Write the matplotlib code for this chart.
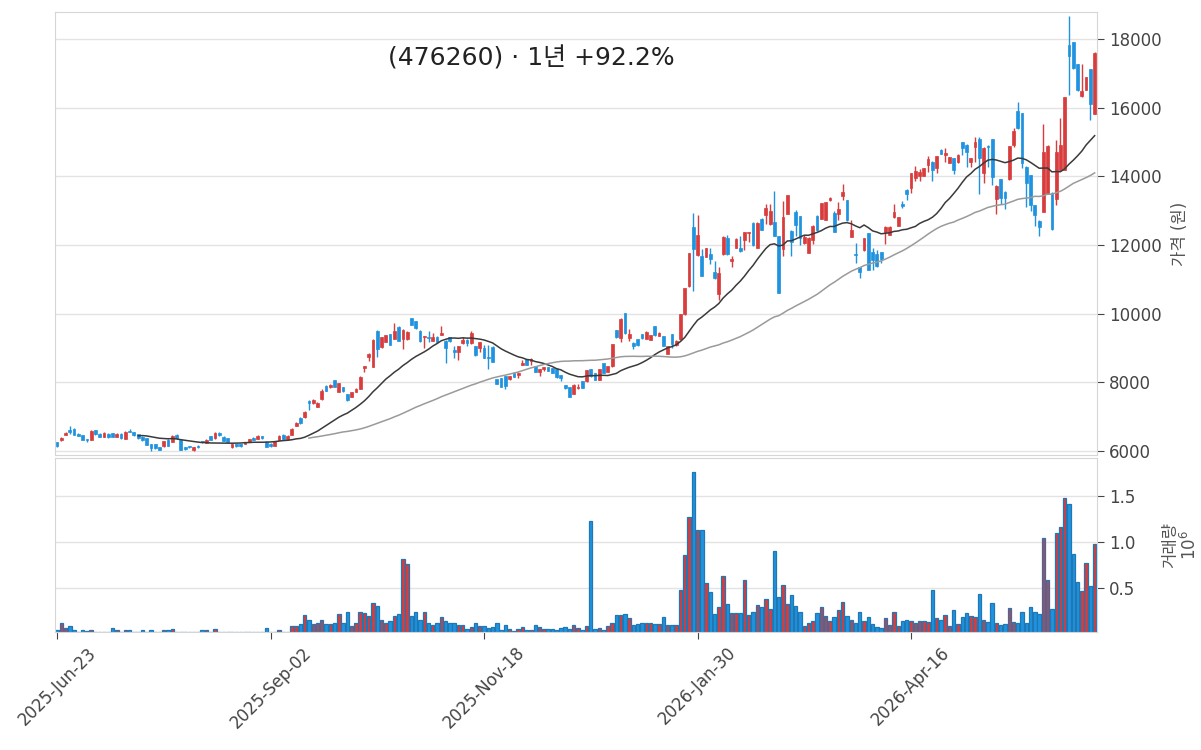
import numpy as np
import pandas as pd
import matplotlib
matplotlib.use("Agg")
import matplotlib.pyplot as plt
from matplotlib.patches import Rectangle

plt.rcParams["font.family"] = ["DejaVu Sans", "Noto Sans CJK KR"]

# =========================
# Data
# =========================
start_date = "2025-06-23"
end_date = "2026-06-22"
holidays = ["2025-08-15", "2025-10-03", "2025-10-06", "2025-10-07", "2025-10-08",
            "2025-10-09", "2025-12-25", "2025-12-31", "2026-01-01", "2026-02-16",
            "2026-02-17", "2026-02-18", "2026-03-02", "2026-05-01", "2026-05-05",
            "2026-05-25", "2026-06-03"]

opens = [
    6250, 6310, 6470, 6620, 6640, 6500, 6460, 6340, 6330, 6600,
    6500, 6410, 6500, 6520, 6410, 6500, 6350, 6580, 6545, 6485,
    6410, 6370, 6195, 6195, 6100, 6135, 6330, 6270, 6465, 6330,
    6100, 6135, 6040, 6155, 6290, 6235, 6430, 6370, 6525, 6410,
    6370, 6100, 6195, 6195, 6195, 6270, 6390, 6350, 6430, 6270,
    6215, 6155, 6320, 6466, 6340, 6466, 6730, 6960, 6980, 7460,
    7390, 7290, 7505, 7890, 7855, 8070, 7720, 7855, 7660, 7580,
    7720, 7815, 8420, 8730, 8455, 9505, 9020, 9175, 9410, 9270,
    9620, 9250, 9250, 9865, 9790, 9505, 9310, 9330, 9215, 9330,
    9390, 9215, 9320, 8950, 8885, 9135, 9235, 9135, 9060, 9000,
    9010, 8730, 9040, 8090, 8110, 8170, 8090, 8280, 8200, 8500,
    8670, 8630, 8475, 8300, 8380, 8440, 8420, 8400, 8200, 7910,
    7860, 7660, 7820, 8030, 8030, 8380, 8260, 8070, 8550, 8300,
    8460, 9510, 9280, 10010, 9300, 9150, 9250, 9400, 9270, 9235,
    9640, 9350, 9350, 8815, 9400, 9080, 9250, 9980, 10800, 12525,
    11700, 11680, 11660, 11730, 11200, 10560, 11730, 12195, 11535, 11920,
    11915, 12135, 12360, 12650, 11920, 12770, 12865, 12600, 12670, 12260,
    11870, 12900, 12420, 12970, 12840, 12060, 11770, 12140, 12855, 12760,
    12740, 13320, 12930, 12910, 13440, 13300, 12230, 11750, 11360, 11845,
    12350, 11790, 11730, 11790, 12370, 12300, 12815, 12545, 13205, 13610,
    13660, 13950, 14020, 14020, 14340, 14430, 14240, 14780, 14620, 14390,
    14535, 14410, 14990, 14915, 14430, 14845, 15080, 14110, 14880, 15090,
    13350, 13910, 13545, 13910, 14910, 15910, 15840, 14280, 14040, 13170,
    12710, 12970, 13500, 13530, 13330, 14190, 14190, 17830, 17920, 17270,
    16340, 16520, 17120, 15820]

highs = [
    6270, 6400, 6540, 6720, 6660, 6510, 6470, 6350, 6600, 6610,
    6520, 6540, 6520, 6530, 6510, 6510, 6580, 6640, 6560, 6490,
    6420, 6380, 6200, 6210, 6110, 6300, 6340, 6460, 6480, 6340,
    6110, 6150, 6110, 6170, 6300, 6340, 6440, 6540, 6540, 6420,
    6380, 6210, 6200, 6210, 6260, 6360, 6400, 6460, 6440, 6280,
    6220, 6300, 6460, 6480, 6450, 6670, 6840, 6980, 7160, 7490,
    7500, 7420, 7790, 7910, 7940, 8080, 7980, 7870, 7670, 7730,
    7830, 8180, 8480, 8840, 9250, 9520, 9320, 9390, 9420, 9720,
    9630, 9540, 9490, 9870, 9800, 9530, 9360, 9480, 9430, 9340,
    9640, 9230, 9330, 9050, 9070, 9330, 9250, 9500, 9070, 9180,
    9100, 9100, 9050, 8100, 8120, 8180, 8190, 8290, 8290, 8650,
    8680, 8700, 8480, 8390, 8450, 8450, 8430, 8410, 8210, 7920,
    7870, 7940, 7940, 8040, 8370, 8390, 8270, 8390, 8560, 8470,
    9120, 9520, 9870, 10020, 9550, 9180, 9260, 9420, 9480, 9380,
    9650, 9460, 9360, 9070, 9410, 9230, 9990, 10760, 11770, 12940,
    12860, 11870, 11910, 11920, 11530, 11350, 12260, 12290, 11680, 12200,
    12260, 12390, 12390, 12660, 12660, 12780, 13190, 13190, 13570, 12270,
    13280, 13460, 12430, 13030, 12850, 12300, 12230, 12570, 12860, 13230,
    13250, 13390, 13000, 13240, 13780, 13310, 12740, 12060, 11370, 12210,
    12360, 11910, 11860, 11800, 12540, 12540, 13200, 12830, 13270, 13620,
    14110, 14290, 14220, 14250, 14600, 14440, 14590, 14790, 14830, 14570,
    14540, 14640, 15000, 14950, 14550, 15160, 15160, 14850, 14900, 15100,
    13740, 13920, 13560, 14890, 15400, 16180, 15850, 14300, 14050, 13180,
    12720, 15525, 14900, 13550, 15060, 15690, 16310, 18670, 17930, 17280,
    17270, 16910, 17130, 17610]

lows = [
    6100, 6300, 6450, 6485, 6450, 6420, 6320, 6270, 6320, 6470,
    6400, 6400, 6390, 6400, 6400, 6360, 6340, 6540, 6440, 6360,
    6300, 6160, 6000, 6060, 6030, 6120, 6140, 6260, 6360, 6030,
    6040, 6080, 6000, 6090, 6240, 6220, 6320, 6360, 6440, 6280,
    6260, 6090, 6120, 6120, 6190, 6260, 6320, 6340, 6360, 6110,
    6120, 6140, 6310, 6350, 6330, 6460, 6720, 6790, 6950, 7200,
    7370, 7280, 7490, 7740, 7840, 7860, 7710, 7730, 7440, 7570,
    7710, 7810, 8290, 8620, 8450, 8750, 9000, 9160, 9080, 9260,
    9200, 8960, 9240, 9660, 9560, 9160, 8990, 9160, 9200, 9160,
    9380, 8550, 9180, 8700, 8640, 9120, 9060, 9120, 8780, 8880,
    8710, 8400, 8580, 7940, 7860, 7800, 8080, 8140, 8110, 8490,
    8490, 8500, 8290, 8170, 8320, 8320, 8270, 8130, 8050, 7810,
    7570, 7650, 7810, 7830, 8020, 8160, 8060, 8060, 8270, 8290,
    8450, 9300, 9180, 9420, 9190, 8980, 9070, 9250, 9260, 9230,
    9360, 9340, 9050, 8810, 9000, 9070, 9240, 9970, 10790, 10660,
    11690, 11090, 11650, 11440, 11000, 10400, 11700, 11720, 11370, 11900,
    11800, 11850, 12100, 11980, 11910, 12430, 12600, 12590, 12250, 10600,
    11680, 12890, 11680, 12250, 12010, 12040, 11760, 12040, 12420, 12750,
    12730, 13270, 12370, 12740, 13320, 12710, 12220, 11480, 11050, 11830,
    11270, 11280, 11370, 11470, 12040, 12290, 12780, 12540, 13080, 13320,
    13510, 13860, 13860, 14010, 14120, 13860, 14100, 14640, 14410, 14380,
    14080, 14400, 14630, 14280, 14280, 14430, 13500, 13800, 14280, 13750,
    12900, 13190, 13040, 13900, 14850, 15370, 14250, 13120, 13000, 12550,
    12250, 12960, 13490, 12450, 13170, 14180, 14180, 16370, 17140, 16500,
    16300, 16510, 15640, 15810]

closes = [
    6130, 6390, 6520, 6545, 6470, 6440, 6330, 6315, 6580, 6485,
    6410, 6525, 6410, 6410, 6500, 6370, 6545, 6560, 6450, 6370,
    6310, 6175, 6080, 6080, 6040, 6290, 6155, 6445, 6370, 6040,
    6050, 6100, 6100, 6100, 6250, 6330, 6330, 6525, 6450, 6290,
    6270, 6195, 6135, 6135, 6250, 6350, 6330, 6445, 6370, 6125,
    6135, 6290, 6440, 6360, 6437, 6650, 6825, 6805, 7145, 7410,
    7485, 7410, 7760, 7760, 7930, 7875, 7970, 7740, 7485, 7720,
    7800, 8165, 8475, 8825, 9235, 8960, 9310, 9380, 9090, 9505,
    9215, 9525, 9475, 9670, 9575, 9215, 9350, 9280, 9330, 9175,
    9450, 8990, 9190, 8880, 9060, 9235, 9135, 9430, 8790, 9175,
    8720, 8710, 8590, 7950, 7870, 7890, 8170, 8150, 8280, 8575,
    8500, 8670, 8300, 8380, 8440, 8330, 8280, 8140, 8130, 7820,
    7580, 7930, 7870, 7840, 8360, 8170, 8070, 8380, 8280, 8460,
    9110, 9320, 9855, 9430, 9400, 9060, 9080, 9300, 9465, 9370,
    9370, 9450, 9060, 9060, 9110, 9215, 9980, 10750, 11760, 11890,
    12280, 11100, 11900, 11580, 11050, 11175, 12245, 11730, 11585, 12185,
    11815, 12380, 12380, 11990, 12650, 12440, 13090, 12980, 12260, 10610,
    12825, 13450, 12090, 12580, 12200, 12230, 12200, 12560, 12430, 13220,
    13240, 13380, 12380, 13050, 13550, 12720, 12450, 11700, 11200, 12200,
    11280, 11575, 11380, 11590, 12525, 12525, 12970, 12815, 13150, 13500,
    14100, 14150, 14140, 14240, 14500, 14180, 14580, 14650, 14680, 14560,
    14200, 14630, 14830, 14720, 14535, 15000, 14550, 14830, 14860, 13970,
    13730, 13360, 13380, 14880, 15330, 15400, 14400, 13800, 13170, 12870,
    12520, 14700, 14880, 12460, 14710, 14910, 16300, 17510, 17150, 16510,
    16500, 16900, 16110, 17600]

# volume in millions of shares
volumes = [
    0.033, 0.110, 0.058, 0.077, 0.033, 0.020, 0.033, 0.022, 0.033, 0.020,
    0.020, 0.020, 0.020, 0.055, 0.033, 0.020, 0.033, 0.033, 0.020, 0.020,
    0.033, 0.020, 0.033, 0.020, 0.012, 0.033, 0.033, 0.044, 0.020, 0.020,
    0.012, 0.012, 0.020, 0.020, 0.033, 0.033, 0.020, 0.044, 0.020, 0.020,
    0.012, 0.020, 0.020, 0.012, 0.012, 0.012, 0.020, 0.012, 0.020, 0.055,
    0.012, 0.012, 0.033, 0.020, 0.020, 0.077, 0.077, 0.100, 0.197, 0.153,
    0.100, 0.110, 0.153, 0.100, 0.100, 0.110, 0.208, 0.120, 0.230, 0.077,
    0.110, 0.230, 0.220, 0.186, 0.330, 0.300, 0.153, 0.120, 0.142, 0.186,
    0.208, 0.810, 0.755, 0.186, 0.240, 0.153, 0.230, 0.110, 0.088, 0.120,
    0.175, 0.142, 0.120, 0.120, 0.088, 0.088, 0.044, 0.066, 0.110, 0.077,
    0.077, 0.055, 0.066, 0.120, 0.033, 0.088, 0.044, 0.022, 0.044, 0.066,
    0.033, 0.033, 0.088, 0.066, 0.044, 0.044, 0.044, 0.033, 0.055, 0.066,
    0.044, 0.088, 0.055, 0.033, 0.077, 1.226, 0.044, 0.055, 0.033, 0.077,
    0.110, 0.197, 0.197, 0.208, 0.164, 0.088, 0.100, 0.120, 0.110, 0.110,
    0.100, 0.100, 0.175, 0.088, 0.088, 0.088, 0.480, 0.854, 1.270, 1.770,
    1.128, 1.128, 0.547, 0.449, 0.208, 0.285, 0.624, 0.328, 0.219, 0.219,
    0.219, 0.580, 0.197, 0.230, 0.307, 0.285, 0.372, 0.263, 0.898, 0.394,
    0.536, 0.328, 0.416, 0.296, 0.240, 0.077, 0.110, 0.142, 0.219, 0.285,
    0.186, 0.142, 0.175, 0.252, 0.350, 0.186, 0.153, 0.120, 0.230, 0.142,
    0.175, 0.100, 0.066, 0.055, 0.164, 0.088, 0.240, 0.077, 0.142, 0.153,
    0.142, 0.120, 0.142, 0.142, 0.131, 0.480, 0.164, 0.153, 0.197, 0.077,
    0.252, 0.100, 0.175, 0.219, 0.186, 0.175, 0.427, 0.153, 0.131, 0.339,
    0.110, 0.088, 0.100, 0.274, 0.131, 0.110, 0.240, 0.120, 0.285, 0.240,
    0.208, 1.040, 0.590, 0.263, 1.095, 1.170, 1.478, 1.412, 0.865, 0.558,
    0.460, 0.766, 0.515, 0.974]

title = "(476260) · 1년 +92.2%"
tick_every = 50

# =========================
# Prep
# =========================
dates = pd.bdate_range(start_date, end_date, freq="C", holidays=holidays)
df = pd.DataFrame({"Open": opens, "High": highs, "Low": lows,
                   "Close": closes, "Volume": volumes}, index=dates[:len(opens)])
ma20 = df["Close"].rolling(20).mean()
ma60 = df["Close"].rolling(60).mean()

up_color = "#d83c3c"
down_color = "#1f93e0"
vol_edge = "#1f77b4"
x = np.arange(len(df))
is_up = df["Close"].values >= df["Open"].values
colors = np.where(is_up, up_color, down_color)

# =========================
# Figure
# =========================
fig = plt.figure(figsize=(12.01, 7.5), dpi=100)
ax = fig.add_axes([0.0458, 0.3933, 0.8676, 0.5907])
axv = fig.add_axes([0.0458, 0.1573, 0.8676, 0.232], sharex=ax)

# candles
body_w = 0.65
ax.vlines(x, df["Low"], df["High"], colors=colors, linewidth=1.0, zorder=2)
for i in range(len(df)):
    lo = min(opens[i], closes[i])
    h = max(abs(closes[i] - opens[i]), 8)
    ax.add_patch(Rectangle((x[i] - body_w / 2, lo), body_w, h,
                           facecolor=colors[i], edgecolor=colors[i],
                           linewidth=0.5, zorder=3))

ax.plot(x, ma20, color="#3a3a3a", linewidth=1.1, zorder=4)
ax.plot(x, ma60, color="#9a9a9a", linewidth=1.1, zorder=4)

# volume
axv.bar(x, df["Volume"], width=0.8, color=colors, edgecolor=vol_edge,
        linewidth=0.9, zorder=2)

# =========================
# Styling
# =========================
for a in (ax, axv):
    a.yaxis.tick_right()
    a.yaxis.set_label_position("right")
    a.grid(axis="y", color="#e3e3e3", linewidth=1.0, zorder=0)
    a.set_axisbelow(True)
    for s in a.spines.values():
        s.set_color("#d6d6d6")
    a.tick_params(axis="y", labelsize=12, colors="#444444", length=5)

ax.set_xlim(-0.47, len(df) - 0.45)
ax.set_ylim(5880, 18790)
ax.set_yticks([6000, 8000, 10000, 12000, 14000, 16000, 18000])
ax.tick_params(axis="x", bottom=False, labelbottom=False)
ax.set_ylabel("가격 (원)", fontsize=12, color="#555555")
ax.yaxis.set_label_coords(1.071, 0.5)

axv.set_ylim(0.016, 1.92)
axv.set_yticks([0.5, 1.0, 1.5])
axv.set_yticklabels(["0.5", "1.0", "1.5"])
axv.set_ylabel("거래량\n$10^{6}$", fontsize=12, color="#555555", linespacing=1.0)
axv.yaxis.set_label_coords(1.062, 0.5)

tick_pos = x[::tick_every]
axv.set_xticks(tick_pos)
axv.set_xticklabels([df.index[i].strftime("%Y-%b-%d") for i in tick_pos],
                    rotation=45, ha="center", fontsize=12, color="#444444")
axv.tick_params(axis="x", length=5, colors="#444444")

fig.text(0.442, 0.922, title, fontsize=18, color="#222222",
         ha="center", va="center")

fig.savefig("out.png", dpi=100)
